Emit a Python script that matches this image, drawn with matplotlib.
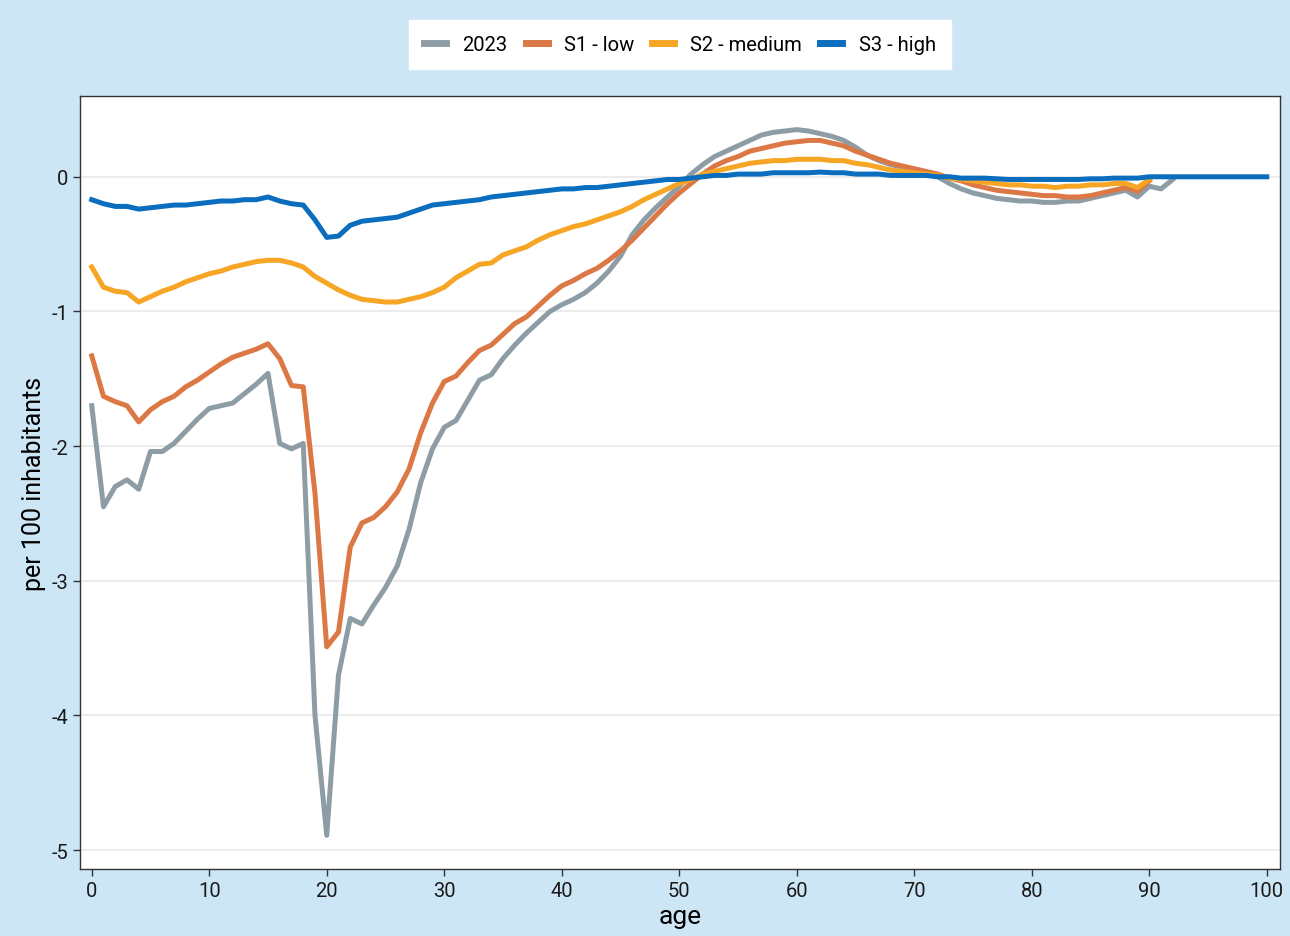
import matplotlib
matplotlib.use("Agg")
import matplotlib.pyplot as plt
import numpy as np

plt.rcParams['font.family'] = ['Roboto', 'DejaVu Sans']
plt.rcParams['axes.unicode_minus'] = False

# values per age
y2023 = [-1.70, -2.45, -2.30, -2.25, -2.32, -2.04, -2.04, -1.98, -1.89, -1.80,
         -1.72, -1.70, -1.68, -1.61, -1.54, -1.46, -1.98, -2.02, -1.98, -4.00,
         -4.89, -3.70, -3.28, -3.32, -3.18, -3.05, -2.89, -2.62, -2.27, -2.02,
         -1.86, -1.81, -1.66, -1.51, -1.47, -1.35, -1.25, -1.16, -1.08, -1.00,
         -0.95, -0.91, -0.86, -0.79, -0.70, -0.59, -0.43, -0.32, -0.23, -0.15,
         -0.07, 0.02, 0.09, 0.15, 0.19, 0.23, 0.27, 0.31, 0.33, 0.34,
         0.35, 0.34, 0.32, 0.30, 0.27, 0.22, 0.16, 0.12, 0.09, 0.07,
         0.05, 0.03, 0.00, -0.05, -0.09, -0.12, -0.14, -0.16, -0.17, -0.18,
         -0.18, -0.19, -0.19, -0.18, -0.18, -0.16, -0.14, -0.12, -0.10, -0.15,
         -0.07, -0.09, -0.02]
s1_low = [-1.33, -1.63, -1.67, -1.70, -1.82, -1.73, -1.67, -1.63, -1.56, -1.51,
          -1.45, -1.39, -1.34, -1.31, -1.28, -1.24, -1.35, -1.55, -1.56, -2.35,
          -3.49, -3.38, -2.75, -2.57, -2.53, -2.45, -2.34, -2.17, -1.90, -1.68,
          -1.52, -1.48, -1.38, -1.29, -1.25, -1.17, -1.09, -1.04, -0.96, -0.88,
          -0.81, -0.77, -0.72, -0.68, -0.62, -0.55, -0.47, -0.38, -0.29, -0.20,
          -0.12, -0.05, 0.02, 0.08, 0.12, 0.15, 0.19, 0.21, 0.23, 0.25,
          0.26, 0.27, 0.27, 0.25, 0.23, 0.19, 0.16, 0.13, 0.10, 0.08,
          0.06, 0.04, 0.02, -0.01, -0.03, -0.06, -0.08, -0.10, -0.11, -0.12,
          -0.13, -0.14, -0.14, -0.15, -0.15, -0.14, -0.12, -0.10, -0.08, -0.11,
          -0.03]
s2_medium = [-0.67, -0.82, -0.85, -0.86, -0.93, -0.89, -0.85, -0.82, -0.78, -0.75,
             -0.72, -0.70, -0.67, -0.65, -0.63, -0.62, -0.62, -0.64, -0.67, -0.74,
             -0.79, -0.84, -0.88, -0.91, -0.92, -0.93, -0.93, -0.91, -0.89, -0.86,
             -0.82, -0.75, -0.70, -0.65, -0.64, -0.58, -0.55, -0.52, -0.47, -0.43,
             -0.40, -0.37, -0.35, -0.32, -0.29, -0.26, -0.22, -0.17, -0.13, -0.09,
             -0.05, -0.02, 0.02, 0.04, 0.06, 0.08, 0.10, 0.11, 0.12, 0.12,
             0.13, 0.13, 0.13, 0.12, 0.12, 0.10, 0.09, 0.07, 0.05, 0.04,
             0.03, 0.02, 0.01, -0.01, -0.02, -0.03, -0.04, -0.05, -0.06, -0.06,
             -0.07, -0.07, -0.08, -0.07, -0.07, -0.06, -0.06, -0.05, -0.05, -0.08,
             -0.02]
s3_high = [-0.17, -0.20, -0.22, -0.22, -0.24, -0.23, -0.22, -0.21, -0.21, -0.20,
           -0.19, -0.18, -0.18, -0.17, -0.17, -0.15, -0.18, -0.20, -0.21, -0.32,
           -0.45, -0.44, -0.36, -0.33, -0.32, -0.31, -0.30, -0.27, -0.24, -0.21,
           -0.20, -0.19, -0.18, -0.17, -0.15, -0.14, -0.13, -0.12, -0.11, -0.10,
           -0.09, -0.09, -0.08, -0.08, -0.07, -0.06, -0.05, -0.04, -0.03, -0.02,
           -0.02, -0.01, 0.00, 0.01, 0.01, 0.02, 0.02, 0.02, 0.03, 0.03,
           0.03, 0.03, 0.035, 0.03, 0.03, 0.02, 0.02, 0.02, 0.01, 0.01,
           0.01, 0.01, 0.00, 0.00, -0.01, -0.01, -0.01, -0.015, -0.02, -0.02,
           -0.02, -0.02, -0.02, -0.02, -0.02, -0.015, -0.015, -0.01, -0.01, -0.01,
           0.00, 0.00, 0.00, 0.00, 0.00, 0.00, 0.00, 0.00, 0.00, 0.00,
           0.00]

series = [("2023", y2023, "#8e9da5"),
          ("S1 - low", s1_low, "#dc7845"),
          ("S2 - medium", s2_medium, "#f7a524"),
          ("S3 - high", s3_high, "#0b6dbd")]

bg = "#cde6f6"
fig = plt.figure(figsize=(12.9, 9.37), dpi=100, facecolor=bg)
ax = fig.add_axes([0.062, 0.0715, 0.93, 0.825])
ax.set_facecolor("white")

for name, vals, col in series:
    ages = np.arange(len(vals))
    ax.plot(ages, vals, color=col, lw=3.6, label=name)

ax.set_xlim(-1.0, 101.1)
ax.set_ylim(-5.14, 0.6)
ax.set_xticks(range(0, 101, 10))
ax.set_yticks(range(-5, 1))
ax.grid(axis="y", color="#ebebeb", lw=1.3)
ax.set_axisbelow(True)
for sp in ax.spines.values():
    sp.set_color("#333333")
    sp.set_linewidth(1.0)
ax.tick_params(direction="out", length=5, width=1, color="#333333",
               labelsize=14.5, labelcolor="#1a1a1a")

ax.set_xlabel("age", fontsize=19, labelpad=3)
ax.set_ylabel("per 100 inhabitants", fontsize=18, labelpad=4)

leg = ax.legend(loc="lower center", bbox_to_anchor=(0.5, 1.035), ncol=4,
                frameon=True, fontsize=14.5, handlelength=1.1, handletextpad=0.8,
                columnspacing=0.9, borderpad=0.75, borderaxespad=0,
                fancybox=False, framealpha=1)
leg.get_frame().set_facecolor("white")
leg.get_frame().set_edgecolor("white")
for ln in leg.get_lines():
    ln.set_linewidth(5)

fig.savefig("out.png", dpi=100, facecolor=bg)
